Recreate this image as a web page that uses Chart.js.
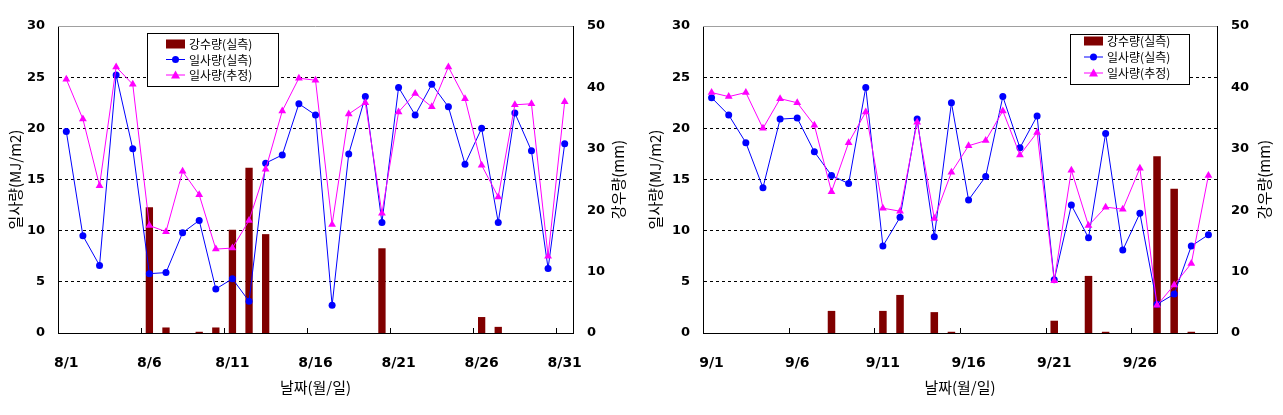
<!DOCTYPE html>
<html>
<head>
<meta charset="utf-8">
<script src="https://cdn.jsdelivr.net/npm/chart.js@4/dist/chart.umd.min.js"></script>
<style>
  body { margin: 0; background: #fff; }
  #wrap { position: relative; width: 1283px; height: 415px; }
  #augChart { position: absolute; left: 0; top: 0; }
  #sepChart { position: absolute; left: 640px; top: 0; }
</style>
</head>
<body>
<div id="wrap">
  <canvas id="augChart" width="640" height="415"></canvas>
  <canvas id="sepChart" width="643" height="415"></canvas>
</div>
<script>

const augLabels = ['8/1','8/2','8/3','8/4','8/5','8/6','8/7','8/8','8/9','8/10',
  '8/11','8/12','8/13','8/14','8/15','8/16','8/17','8/18','8/19','8/20',
  '8/21','8/22','8/23','8/24','8/25','8/26','8/27','8/28','8/29','8/30','8/31'];
const augTicks = ['8/1','8/6','8/11','8/16','8/21','8/26','8/31'];
const augRain = [0,0,0,0,0,20.5,0.9,0,0.2,0.9,16.8,26.9,16.1,0,0,0,0,0,0,13.8,
  0,0,0,0,0,2.6,1.0,0,0,0,0];
const augSolarObs = [19.7,9.5,6.6,25.2,18.0,5.8,5.9,9.8,11.0,4.3,5.3,3.1,16.6,17.4,22.4,21.3,
  2.7,17.5,23.1,10.8,24.0,21.3,24.3,22.1,16.5,20.0,10.8,21.5,17.8,6.3,18.5];
const augSolarEst = [24.8,20.9,14.4,26.0,24.3,10.5,9.9,15.8,13.5,8.2,8.3,11.0,16.0,21.7,24.9,24.7,
  10.6,21.4,22.5,11.7,21.6,23.4,22.1,26.0,22.9,16.4,13.3,22.3,22.4,7.5,22.6];

const sepLabels = ['9/1','9/2','9/3','9/4','9/5','9/6','9/7','9/8','9/9','9/10',
  '9/11','9/12','9/13','9/14','9/15','9/16','9/17','9/18','9/19','9/20',
  '9/21','9/22','9/23','9/24','9/25','9/26','9/27','9/28','9/29','9/30'];
const sepTicks = ['9/1','9/6','9/11','9/16','9/21','9/26'];
const sepRain = [0,0,0,0,0,0,0,3.6,0,0,3.6,6.2,0,3.4,0.2,0,0,0,0,0,
  2.0,0,9.3,0.2,0,0,28.8,23.5,0.2,0];
const sepSolarObs = [23.0,21.3,18.6,14.2,20.9,21.0,17.7,15.4,14.6,24.0,8.5,11.3,20.9,9.4,22.5,
  13.0,15.3,23.1,18.1,21.2,5.2,12.5,9.3,19.5,8.1,11.7,2.8,3.8,8.5,9.6];
const sepSolarEst = [23.5,23.1,23.5,20.0,22.9,22.5,20.3,13.8,18.6,21.6,12.2,11.9,20.6,11.2,15.7,
  18.3,18.8,21.7,17.4,19.6,5.1,15.9,10.5,12.3,12.1,16.1,2.7,4.7,6.8,15.4];

const seriesNames = ['강수량(실측)', '일사량(실측)', '일사량(추정)'];
const rainColor = '#800000';
const obsColor = '#0000ff';
const estColor = '#ff00ff';
const tickFont = { family: 'DejaVu Sans', size: 13, weight: 'bold' };
const xTickFont = { family: 'DejaVu Sans', size: 14, weight: 'bold' };
const titleFont = { family: 'Noto Sans CJK KR', size: 15 };

// top frame line, inward x ticks every 5 days, right axis title, legend box
const decor = {
  id: 'decor',
  afterDraw(chart, args, opts) {
    const ctx = chart.ctx;
    const a = chart.chartArea;
    const xs = chart.scales.x;
    ctx.save();
    ctx.lineWidth = 1;
    ctx.strokeStyle = '#a0a0a0';
    ctx.beginPath();
    ctx.moveTo(a.left, a.top + 0.5);
    ctx.lineTo(a.right, a.top + 0.5);
    ctx.stroke();

    const half = (xs.getPixelForValue(1) - xs.getPixelForValue(0)) / 2;
    ctx.strokeStyle = '#000';
    for (let i = 5; i < xs.ticks.length; i += 5) {
      const px = Math.round(xs.getPixelForValue(i) - half) + 0.5;
      ctx.beginPath();
      ctx.moveTo(px, a.bottom);
      ctx.lineTo(px, a.bottom - 5);
      ctx.stroke();
    }

    ctx.fillStyle = '#000';
    ctx.font = '15px "Noto Sans CJK KR"';
    ctx.textAlign = 'center';
    ctx.textBaseline = 'middle';
    ctx.translate(chart.scales.y1.left + opts.titleOffset, (a.top + a.bottom) / 2);
    ctx.rotate(-Math.PI / 2);
    ctx.fillText('강우량(mm)', 0, 0);
    ctx.setTransform(1, 0, 0, 1, 0, 0);

    const L = opts.legend;
    ctx.fillStyle = '#fff';
    ctx.fillRect(L.x, L.y, L.w, L.h);
    ctx.strokeStyle = '#000';
    ctx.strokeRect(L.x + 0.5, L.y + 0.5, L.w, L.h);
    ctx.font = '12px "Noto Sans CJK KR"';
    ctx.textAlign = 'left';
    for (let r = 0; r < 3; r++) {
      const cy = L.y + L.first + r * L.step;
      const mx = L.x + L.mark;
      if (r === 0) {
        ctx.fillStyle = rainColor;
        ctx.fillRect(mx, cy - 4, 19, 9);
      } else {
        const c = r === 1 ? obsColor : estColor;
        ctx.strokeStyle = c;
        ctx.fillStyle = c;
        ctx.beginPath();
        ctx.moveTo(mx, cy + 0.5);
        ctx.lineTo(mx + 19, cy + 0.5);
        ctx.stroke();
        ctx.beginPath();
        if (r === 1) {
          ctx.arc(mx + 9.5, cy + 0.5, 3.5, 0, Math.PI * 2);
        } else {
          ctx.moveTo(mx + 9.5, cy - 4);
          ctx.lineTo(mx + 14, cy + 4);
          ctx.lineTo(mx + 5, cy + 4);
          ctx.closePath();
        }
        ctx.fill();
      }
      ctx.fillStyle = '#000';
      ctx.fillText(seriesNames[r], L.x + L.text, cy + 1);
    }
    ctx.restore();
  }
};

function makeChart(id, labels, shownTicks, rain, obs, est, cfg) {
  return new Chart(document.getElementById(id), {
    type: 'bar',
    data: {
      labels: labels,
      datasets: [
        {
          type: 'bar', label: seriesNames[0], data: rain, yAxisID: 'y1',
          backgroundColor: rainColor, barPercentage: 0.44, categoryPercentage: 1, order: 3
        },
        {
          type: 'line', label: seriesNames[1], data: obs, yAxisID: 'y',
          borderColor: obsColor, backgroundColor: obsColor, borderWidth: 1,
          pointStyle: 'circle', pointRadius: 3.5, pointBorderWidth: 0, order: 2
        },
        {
          type: 'line', label: seriesNames[2], data: est, yAxisID: 'y',
          borderColor: estColor, backgroundColor: estColor, borderWidth: 1,
          pointStyle: 'triangle', pointRadius: 4.5, pointBorderWidth: 0, order: 1
        }
      ]
    },
    options: {
      responsive: false,
      animation: false,
      layout: { padding: { left: 0, right: 0, top: 26, bottom: 0 } },
      plugins: {
        legend: { display: false },
        tooltip: { enabled: false },
        decor: cfg
      },
      scales: {
        x: {
          offset: true,
          grid: { display: false },
          border: { color: '#000', width: 1 },
          ticks: {
            autoSkip: false, maxRotation: 0, color: '#000', font: xTickFont, padding: 14,
            callback: function (v, i) {
              return shownTicks.includes(labels[i]) ? labels[i] : '';
            }
          },
          title: { display: true, text: '날짜(월/일)', color: '#000', font: titleFont, padding: { top: 0, bottom: 19 } },
          afterFit: function (s) { s.height = 82; }
        },
        y: {
          position: 'left', min: 0, max: 30,
          ticks: { stepSize: 5, color: '#000', font: tickFont, padding: 13 },
          grid: {
            drawTicks: false,
            color: function (c) { return (c.tick.value === 0 || c.tick.value === 30) ? 'rgba(0,0,0,0)' : '#000'; }
          },
          border: { color: '#000', width: 1, dash: [3, 3] },
          title: { display: true, text: '일사량(MJ/m2)', color: '#000', font: titleFont, padding: { top: 6, bottom: 0 } },
          afterFit: function (s) { s.width = cfg.leftW; }
        },
        y1: {
          position: 'right', min: 0, max: 50,
          ticks: { stepSize: 10, color: '#000', font: tickFont, padding: 14 },
          grid: { display: false, drawTicks: false },
          border: { color: '#000', width: 1 },
          afterFit: function (s) { s.width = cfg.rightW; }
        }
      }
    },
    plugins: [decor]
  });
}

var augChart = makeChart('augChart', augLabels, augTicks, augRain, augSolarObs, augSolarEst, {
  leftW: 58, rightW: 67, titleOffset: 45,
  legend: { x: 147, y: 33, w: 131, h: 53, mark: 19, text: 42, first: 10.5, step: 15.5 }
});

var sepChart = makeChart('sepChart', sepLabels, sepTicks, sepRain, sepSolarObs, sepSolarEst, {
  leftW: 63, rightW: 66, titleOffset: 47,
  legend: { x: 430, y: 34, w: 119, h: 50, mark: 14, text: 37, first: 6.5, step: 16 }
});
</script>
</body>
</html>
